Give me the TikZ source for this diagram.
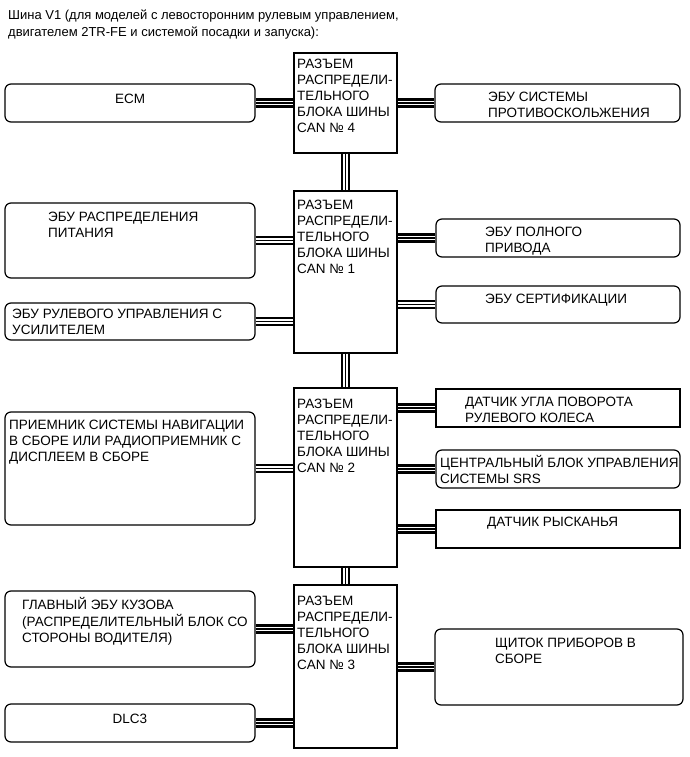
\documentclass[tikz,border=0pt]{standalone}
\usepackage{fontspec}
\setmainfont{Liberation Sans}
\newcommand{\ml}[1]{\begin{tabular}[t]{@{}l@{}}#1\end{tabular}}
\begin{document}
\begin{tikzpicture}[x=1pt,y=-1pt,
  box/.style={draw=black, line width=1.2pt, fill=white, inner sep=0pt},
  rbox/.style={box, rounded corners=6pt},
  txt/.style={inner sep=0pt, anchor=base west, font=\fontsize{13.5}{16}\selectfont},
  ctxt/.style={txt, anchor=base},
  ttl/.style={inner sep=0pt, anchor=base west, font=\fontsize{13}{16.5}\selectfont},
  bus/.style={draw=black, line width=1.5pt, preaction={draw=black, line width=2.5pt, double=white, double distance=4.5pt}}]
\useasboundingbox (0,0) rectangle (690,757);
\fill[white] (0,0) rectangle (690,757);

% title
\node[ttl] (title) at (8,20) {\ml{Шина V1 (для моделей с левосторонним рулевым управлением,\\двигателем 2TR-FE и системой посадки и запуска):}};

% central CAN boxes
\node[box, minimum width=103pt, minimum height=100pt] (c4) at (345.5,103) {};
\node[box, minimum width=103pt, minimum height=162pt] (c1) at (345.5,272) {};
\node[box, minimum width=103pt, minimum height=179pt] (c2) at (345.5,477.5) {};
\node[box, minimum width=103pt, minimum height=163pt] (c3) at (345.5,666.5) {};

% left boxes
\node[rbox, minimum width=250pt, minimum height=38pt] (ecm) at (130,103) {};
\node[rbox, minimum width=250pt, minimum height=75pt] (pwr) at (130,240.5) {};
\node[rbox, minimum width=250pt, minimum height=37pt] (eps) at (130,321.5) {};
\node[rbox, minimum width=250pt, minimum height=113pt] (nav) at (130,468.5) {};
\node[rbox, minimum width=250pt, minimum height=76pt] (bcm) at (130,629) {};
\node[rbox, minimum width=250pt, minimum height=38pt] (dlc) at (130,723) {};

% right boxes
\node[rbox, minimum width=245pt, minimum height=38pt] (skid) at (557.5,103) {};
\node[rbox, minimum width=244pt, minimum height=38pt] (awd) at (558,238) {};
\node[rbox, minimum width=244pt, minimum height=37pt] (cert) at (558,304.5) {};
\node[box, minimum width=244pt, minimum height=38pt] (angle) at (558,408) {};
\node[rbox, minimum width=244pt, minimum height=38pt] (srs) at (558,469) {};
\node[box, minimum width=244pt, minimum height=38pt] (yaw) at (558,529) {};
\node[rbox, minimum width=248pt, minimum height=76pt] (clus) at (559,667) {};

% bus connectors
\draw[bus] (c4.south) -- (c1.north);
\draw[bus] (c1.south) -- (c2.north);
\draw[bus] (c2.south) -- (c3.north);
\draw[bus] (ecm.east) -- (ecm.east -| c4.west);
\draw[bus] (skid.west) -- (skid.west -| c4.east);
\draw[bus] (pwr.east) -- (pwr.east -| c1.west);
\draw[bus] (eps.east) -- (eps.east -| c1.west);
\draw[bus] (awd.west) -- (awd.west -| c1.east);
\draw[bus] (cert.west) -- (cert.west -| c1.east);
\draw[bus] (nav.east) -- (nav.east -| c2.west);
\draw[bus] (angle.west) -- (angle.west -| c2.east);
\draw[bus] (srs.west) -- (srs.west -| c2.east);
\draw[bus] (yaw.west) -- (yaw.west -| c2.east);
\draw[bus] (bcm.east) -- (bcm.east -| c3.west);
\draw[bus] (dlc.east) -- (dlc.east -| c3.west);
\draw[bus] (clus.west) -- (clus.west -| c3.east);

% CAN texts
\node[txt] (t4) at (297,69) {\ml{РАЗЪЕМ\\РАСПРЕДЕЛИ-\\ТЕЛЬНОГО\\БЛОКА ШИНЫ\\CAN № 4}};
\node[txt] (t1) at (297,209) {\ml{РАЗЪЕМ\\РАСПРЕДЕЛИ-\\ТЕЛЬНОГО\\БЛОКА ШИНЫ\\CAN № 1}};
\node[txt] (t2) at (297,408) {\ml{РАЗЪЕМ\\РАСПРЕДЕЛИ-\\ТЕЛЬНОГО\\БЛОКА ШИНЫ\\CAN № 2}};
\node[txt] (t3) at (297,605) {\ml{РАЗЪЕМ\\РАСПРЕДЕЛИ-\\ТЕЛЬНОГО\\БЛОКА ШИНЫ\\CAN № 3}};

% left texts
\node[ctxt] (tecm) at (130,103.5) {ECM};
\node[txt] (tpwr) at (48,221) {\ml{ЭБУ РАСПРЕДЕЛЕНИЯ\\ПИТАНИЯ}};
\node[txt] (teps) at (12,318.5) {\ml{ЭБУ РУЛЕВОГО УПРАВЛЕНИЯ С\\УСИЛИТЕЛЕМ}};
\node[txt] (tnav) at (9,429) {\ml{ПРИЕМНИК СИСТЕМЫ НАВИГАЦИИ\\В СБОРЕ ИЛИ РАДИОПРИЕМНИК С\\ДИСПЛЕЕМ В СБОРЕ}};
\node[txt] (tbcm) at (22,609) {\ml{ГЛАВНЫЙ ЭБУ КУЗОВА\\(РАСПРЕДЕЛИТЕЛЬНЫЙ БЛОК СО\\СТОРОНЫ ВОДИТЕЛЯ)}};
\node[ctxt] (tdlc) at (130,723.5) {DLC3};

% right texts
\node[txt] (tskid) at (488,101.5) {\ml{ЭБУ СИСТЕМЫ\\ПРОТИВОСКОЛЬЖЕНИЯ}};
\node[txt] (tawd) at (485,236.5) {\ml{ЭБУ ПОЛНОГО\\ПРИВОДА}};
\node[txt] (tcert) at (485,303.5) {ЭБУ СЕРТИФИКАЦИИ};
\node[txt] (tangle) at (465,406.5) {\ml{ДАТЧИК УГЛА ПОВОРОТА\\РУЛЕВОГО КОЛЕСА}};
\node[txt] (tsrs) at (440,467.5) {\ml{ЦЕНТРАЛЬНЫЙ БЛОК УПРАВЛЕНИЯ\\СИСТЕМЫ SRS}};
\node[txt] (tyaw) at (487,526.5) {ДАТЧИК РЫСКАНЬЯ};
\node[txt] (tclus) at (495,647.5) {\ml{ЩИТОК ПРИБОРОВ В\\СБОРЕ}};
\end{tikzpicture}
\end{document}
